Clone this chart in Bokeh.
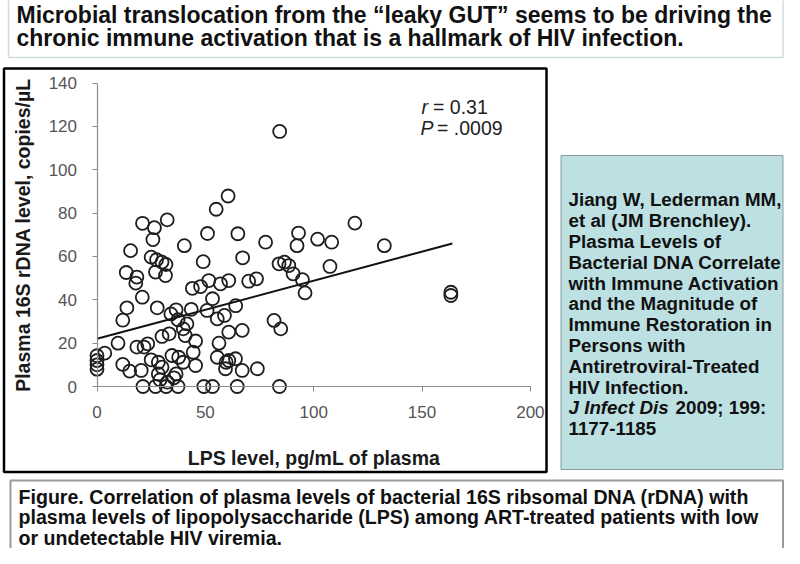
from bokeh.plotting import figure
from bokeh.models import Range1d, FixedTicker, ColumnDataSource
from bokeh.embed import file_html
from bokeh.resources import INLINE
from bokeh.core.properties import value

# ---------------- data ----------------
title_lines = [
    "Microbial translocation from the \u201cleaky GUT\u201d seems to be driving the",
    "chronic immune activation that is a hallmark of HIV infection.",
]
x_label = "LPS level, pg/mL of plasma"
y_label = "Plasma 16S rDNA level, copies/\u00b5L"
x_ticks = [0, 50, 100, 150, 200]
y_ticks = [0, 20, 40, 60, 80, 100, 120, 140]

lps = [84.3, 60.5, 55, 21, 32.4, 26.5, 25.8, 119, 51, 65, 93, 92.3, 101.8, 108.3, 132.6,
       77.8, 40.3, 15.5, 25, 27.5, 30, 31.8, 27, 31.6, 67.2, 49, 107.5, 84, 86.5, 88.5,
       90.5, 94.8, 96, 13.5, 18.4, 17.9, 20.9, 51.6, 57, 60.8, 70, 73.6, 44, 47.8, 27.8,
       13.8, 11.9, 36.5, 43.5, 53.3, 50.8, 64, 34.1, 37.4, 41.5, 55.5, 58.8, 81.7, 84.8,
       30, 33.3, 39.8, 40.7, 60.8, 67, 9.7, 18.4, 21.7, 23.4, 45.5, 56.3, 25, 28.3, 30,
       34.6, 37.7, 39.8, 44.4, 55.5, 60.8, 63.9, 59.3, 74, 67, 11.9, 15.1, 20.4, 28.3,
       29.1, 36.5, 45.5, 59.6, 21.2, 27, 31.9, 37.4, 49.3, 53.3, 64.7, 84.2, 163.3,
       163.3, 0, 0, 0, 0, 3.6, 32.5, 35.5]
rdna = [117.7, 87.9, 81.8, 75.3, 76.9, 73.3, 67.8, 75.4, 70.6, 70.5, 70.8, 65, 68, 66.6,
        65, 66.6, 65, 62.7, 59.7, 58.5, 57.4, 56.3, 52.8, 51.2, 59.4, 57.6, 55.4, 56.6,
        57.4, 55.8, 52, 49.3, 43.2, 52.6, 50.5, 47.7, 41.2, 48.9, 47.4, 48.9, 48.6, 49.7,
        45.3, 46.1, 36.3, 36.3, 30.6, 35.4, 35.6, 40.5, 35.1, 37.3, 33.5, 30.8, 28.9,
        31.2, 32.8, 30.5, 26.6, 23.1, 24.3, 26.6, 23.5, 25.1, 25.9, 20, 18.2, 18.2, 19.7,
        21, 20, 12.3, 11.2, 8.9, 14.3, 13.5, 11.2, 15.8, 13.5, 12, 12.8, 8.2, 8.2, 7.4,
        10.2, 7.1, 7.4, 5.8, 3.1, 5.8, 9.7, 11.2, 0, 0, 0, 0, 0, 0, 0, 0, 43.5, 42, 14.2,
        12, 10, 8, 15.4, 2, 4]

fit_x = [0, 164]
fit_y = [22, 66]
stat_r = "0.31"
stat_p = ".0009"

citation_lines = [
    "Jiang W, Lederman MM,",
    "et al (JM Brenchley).",
    "Plasma Levels of",
    "Bacterial DNA Correlate",
    "with Immune Activation",
    "and the Magnitude of",
    "Immune Restoration in",
    "Persons with",
    "Antiretroviral-Treated",
    "HIV Infection.",
]
citation_journal = "J Infect Dis"
citation_issue = "2009; 199:"
citation_pages = "1177-1185"

caption_lines = [
    "Figure.  Correlation of plasma levels of bacterial 16S ribsomal DNA (rDNA) with",
    "plasma levels of lipopolysaccharide (LPS) among ART-treated patients with low",
    "or undetectable HIV viremia.",
]

# ---------------- layout ----------------
W, H = 784, 548
ORIGIN_X, ORIGIN_Y, PPU = 96.5, 386.0, 2.167
FONT = "Liberation Sans"

p = figure(width=W, height=H, output_backend="svg", toolbar_location=None, tools="",
           title=None,
           x_range=Range1d(-ORIGIN_X / PPU, (W - ORIGIN_X) / PPU),
           y_range=Range1d(-(H - ORIGIN_Y) / PPU, ORIGIN_Y / PPU),
           min_border=0)
p.min_border_left = 0
p.min_border_right = 0
p.min_border_top = 0
p.min_border_bottom = 0
p.extra_x_ranges = {"px": Range1d(0, W)}
p.extra_y_ranges = {"px": Range1d(H, 0)}
p.outline_line_color = None
p.grid.visible = False
p.background_fill_color = "white"
p.border_fill_color = "white"

PX = dict(x_range_name="px", y_range_name="px")


def box(l, r, t, b, fill, line, lw):
    p.quad(left=[l], right=[r], top=[t], bottom=[b], fill_color=fill,
           line_color=line, line_width=lw, **PX)


def txt(x, y, s, size, style="bold", color="#111111", align="left"):
    p.text(x=[x], y=[y], text=[s], text_font=value(FONT), text_font_size=size,
           text_font_style=style, text_color=color, text_align=align,
           text_baseline="middle", **PX)


# title box
box(8, 782.5, -4, 57, None, "#cfdbe0", 1.5)
for i, line in enumerate(title_lines):
    txt(16, 14 + 23.3 * i, line, "23px")

# chart border
box(3.5, 546, 68, 471.5, None, "#000000", 2.5)

# citation box
box(560.5, 782.5, 155, 469, "#bde0e3", "#8a9c9e", 1)
CIT = 199.3
for i, line in enumerate(citation_lines):
    txt(568, CIT + 20.8 * i, line, "18.8px")
txt(568, CIT + 20.8 * 10, citation_journal, "18.8px", style="bold italic")
txt(675, CIT + 20.8 * 10, citation_issue, "18.8px")
txt(568, CIT + 20.8 * 11, citation_pages, "18.8px")

# caption box
box(10, 782.5, 480, 570, "white", "#9a9a9a", 2)
for i, line in enumerate(caption_lines):
    txt(18, 496 + 20.5 * i, line, "19.6px")

# ---------------- axes ----------------
xa = p.xaxis[0]
xa.fixed_location = 0
xa.bounds = (0, 200)
xa.ticker = FixedTicker(ticks=x_ticks)
ya = p.yaxis[0]
ya.fixed_location = 0
ya.bounds = (0, 140)
ya.ticker = FixedTicker(ticks=y_ticks)
for ax in (xa, ya):
    ax.axis_line_color = "#8c8c8c"
    ax.axis_line_width = 1.2
    ax.major_tick_line_color = "#8c8c8c"
    ax.major_tick_in = 0
    ax.major_tick_out = 5
    ax.minor_tick_line_color = None
    ax.major_label_text_font = FONT
    ax.major_label_text_font_size = "17px"
    ax.major_label_text_color = "#555555"
    ax.axis_label_text_font = FONT
    ax.axis_label_text_font_style = "bold"
    ax.axis_label_text_font_size = "19.5px"
    ax.axis_label_text_color = "#1a1a1a"
xa.major_label_standoff = 14
xa.axis_label = x_label
xa.axis_label_standoff = 26
ya.major_label_standoff = 15
ya.axis_label = y_label
ya.axis_label_standoff = 12

# ---------------- marks ----------------
src = ColumnDataSource(dict(lps=lps, rdna=rdna))
p.scatter("lps", "rdna", source=src, marker="circle", size=13, fill_color=None,
          line_color="#1e1e1e", line_width=1.8)
p.line(fit_x, fit_y, line_color="#111111", line_width=2)

# statistics
txt(421, 106, "r", "19.5px", style="italic", color="#222222")
txt(432.5, 106, "= " + stat_r, "19.5px", style="normal", color="#222222")
txt(420, 127, "P", "19.5px", style="italic", color="#222222")
txt(436.5, 127, "= " + stat_p, "19.5px", style="normal", color="#222222")

open("out.html", "w").write(file_html(p, INLINE))
